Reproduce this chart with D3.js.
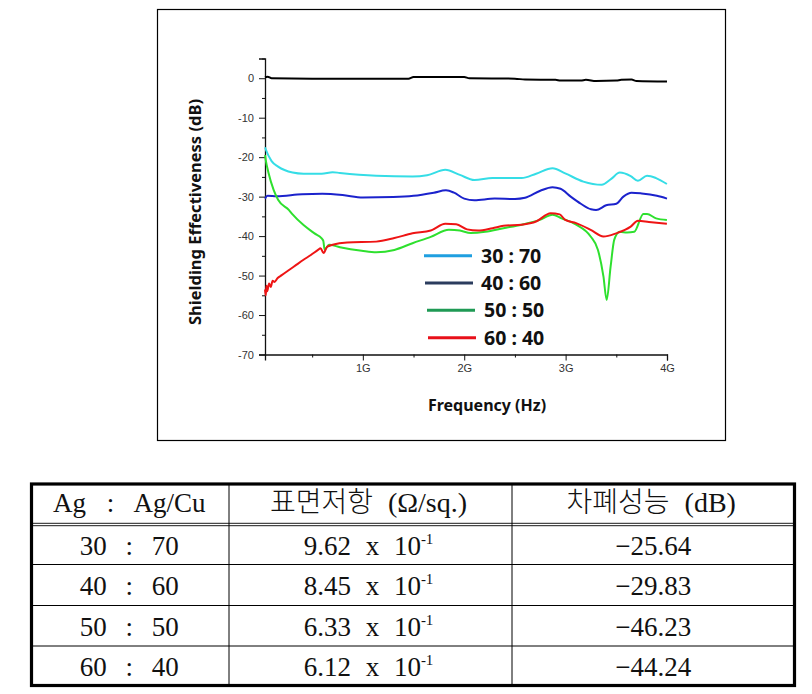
<!DOCTYPE html>
<html><head><meta charset="utf-8">
<script src="https://cdn.jsdelivr.net/npm/d3@7/dist/d3.min.js"></script>
<style>body{margin:0;background:#fff}svg{display:block}</style>
</head><body><svg id="c" width="812" height="694"></svg>
<script>
// ---------- data ----------
const freqMajorTicks = [1, 2, 3, 4];
const freqMinorTicks = [0.5, 1.5, 2.5, 3.5];
const dbMajorTicks = [0, -10, -20, -30, -40, -50, -60, -70];
const dbMinorTicks = [5, -5, -15, -25, -35, -45, -55, -65];

const seriesNames = ["30 : 70", "40 : 60", "50 : 50", "60 : 40"];

// [frequency (GHz), shielding effectiveness (dB)]
const refLine = [[0.035,0.2],[0.06,0.4],[0.1,0],[0.5,-0.1],[1.0,-0.1],[1.45,-0.1],[1.5,0.3],[2.0,0.3],[2.05,0],[2.5,-0.1],[2.6,-0.35],[2.9,-0.4],[2.95,-0.6],[3.15,-0.6],[3.2,-0.4],[3.3,-0.7],[3.5,-0.6],[3.55,-0.4],[3.65,-0.35],[3.7,-0.7],[4.0,-0.85]];
const s3070 = [[0.035,-17.5],[0.042,-18.0],[0.1,-21],[0.164,-22.4],[0.307,-23.9],[0.415,-24.2],[0.594,-24.2],[0.702,-23.8],[0.774,-24.0],[1.132,-24.7],[1.49,-24.9],[1.634,-24.6],[1.813,-23.2],[1.957,-24.5],[2.1,-25.8],[2.279,-25.3],[2.566,-25.3],[2.709,-24.2],[2.871,-22.8],[2.996,-24.1],[3.175,-26.2],[3.355,-27.0],[3.45,-25.5],[3.534,-23.9],[3.642,-24.8],[3.713,-26.0],[3.803,-24.7],[3.892,-25.3],[3.999,-26.8]];
const s4060 = [[0.035,-30.5],[0.06,-29.8],[0.15,-29.9],[0.4,-29.4],[0.6,-29.3],[0.8,-29.6],[1.0,-30.2],[1.3,-30.1],[1.5,-29.8],[1.7,-29.0],[1.82,-28.4],[1.9,-29.0],[2.0,-30.5],[2.1,-30.9],[2.3,-30.5],[2.5,-30.6],[2.6,-30.3],[2.75,-28.5],[2.87,-27.6],[2.95,-28.0],[3.05,-30.0],[3.15,-31.8],[3.25,-33.2],[3.3,-33.4],[3.4,-32.2],[3.5,-31.8],[3.57,-30.0],[3.65,-29.0],[3.75,-29.2],[3.9,-29.8],[4.0,-30.5]];
const s5050 = [[0.035,-19.5],[0.042,-20.7],[0.07,-24],[0.12,-28.3],[0.164,-30.8],[0.272,-33.4],[0.307,-34.5],[0.415,-37.2],[0.523,-39.3],[0.594,-40.6],[0.61,-41.2],[0.623,-43.4],[0.666,-42.2],[0.774,-42.8],[0.989,-43.7],[1.132,-44.1],[1.311,-43.5],[1.49,-41.8],[1.67,-40.2],[1.849,-38.4],[1.957,-38.6],[2.064,-39.2],[2.208,-38.9],[2.387,-38.0],[2.566,-37.1],[2.745,-35.9],[2.871,-34.6],[2.96,-35.5],[3.104,-37.1],[3.247,-40.1],[3.319,-43.5],[3.373,-50.2],[3.405,-56.2],[3.444,-47.7],[3.48,-40.9],[3.534,-38.9],[3.606,-39.1],[3.677,-38.9],[3.767,-34.4],[3.803,-34.4],[3.892,-35.5],[3.999,-35.9]];
const s6040 = [[0.035,-53.5],[0.042,-55.0],[0.05,-52.6],[0.057,-54.0],[0.075,-52.0],[0.092,-52.9],[0.11,-51.3],[0.128,-51.6],[0.16,-50.6],[0.2,-49.9],[0.272,-48.6],[0.343,-47.3],[0.415,-46.0],[0.487,-44.8],[0.558,-43.5],[0.583,-43.1],[0.612,-44.3],[0.648,-42.7],[0.702,-42.2],[0.845,-41.6],[1.132,-41.4],[1.311,-40.5],[1.49,-39.3],[1.67,-38.6],[1.813,-36.9],[1.921,-37.0],[2.028,-38.3],[2.136,-38.6],[2.279,-38.0],[2.387,-37.4],[2.566,-37.1],[2.709,-36.3],[2.853,-34.2],[2.942,-34.5],[2.996,-35.9],[3.104,-36.7],[3.247,-38.4],[3.373,-40.1],[3.498,-39.3],[3.642,-37.6],[3.713,-36.1],[3.821,-36.4],[3.999,-36.9]];

const tableHeader = ["Ag : Ag/Cu", "표면저항 (Ω/sq.)", "차폐성능 (dB)"];
const tableRatio = ["30 : 70", "40 : 60", "50 : 50", "60 : 40"];
const tableResistMantissa = ["9.62", "8.45", "6.33", "6.12"];
const tableResistExponent = ["-1", "-1", "-1", "-1"];
const tableShield = ["−25.64", "−29.83", "−46.23", "−44.24"];

// ---------- styles ----------
const lineColors = ["#35dde6", "#1b22cc", "#2ee02e", "#ee1414"];
const legendColors = ["#1f9fe0", "#2b3c5e", "#1f9a55", "#e8101a"];
const svg = d3.select("#c");

// frame
svg.append("rect").attr("x", 157.5).attr("y", 9.5).attr("width", 568).attr("height", 431)
  .attr("fill", "none").attr("stroke", "#000").attr("stroke-width", 1.2);

const x = d3.scaleLinear().domain([0.035, 4]).range([265, 667]);
const y = d3.scaleLinear().domain([-70, 5]).range([354.5, 58.5]);

const tickFont = "'Liberation Sans', Arial, sans-serif";

// y axis
const yAxis = svg.append("g").attr("transform", "translate(265,0)")
  .call(d3.axisLeft(y).tickValues(dbMajorTicks).tickSize(6).tickPadding(5).tickFormat(d => d));
yAxis.selectAll("text").attr("font-family", tickFont).attr("font-size", 11).attr("fill", "#333");
const yMinor = svg.append("g").attr("transform", "translate(265,0)")
  .call(d3.axisLeft(y).tickValues(dbMinorTicks).tickSize(3).tickFormat(""));
yMinor.select(".domain").remove();

// x axis
const xAxis = svg.append("g").attr("transform", "translate(0,354.5)")
  .call(d3.axisBottom(x).tickValues(freqMajorTicks).tickSize(6).tickPadding(4).tickFormat(d => d + "G"));
xAxis.selectAll("text").attr("font-family", tickFont).attr("font-size", 11).attr("fill", "#333");
const xMinor = svg.append("g").attr("transform", "translate(0,354.5)")
  .call(d3.axisBottom(x).tickValues(freqMinorTicks).tickSize(3).tickFormat(""));
xMinor.select(".domain").remove();
svg.selectAll(".domain").attr("stroke", "#111").attr("stroke-width", 1.3);
svg.selectAll(".tick line").attr("stroke", "#111").attr("stroke-width", 1);

// axis titles
const titleFont = "'Noto Sans', 'Open Sans', sans-serif";
svg.append("text").attr("transform", "translate(201,212) rotate(-90)")
  .attr("text-anchor", "middle").attr("font-family", titleFont).attr("font-weight", "bold")
  .attr("font-size", 16.5).attr("fill", "#111").text("Shielding Effectiveness (dB)");
svg.append("text").attr("x", 487).attr("y", 411)
  .attr("text-anchor", "middle").attr("font-family", titleFont).attr("font-weight", "bold")
  .attr("font-size", 16).attr("fill", "#111").text("Frequency (Hz)");

// lines
const line = d3.line().x(d => x(d[0])).y(d => y(d[1])).curve(d3.curveMonotoneX);
const allSeries = [
  {data: refLine, color: "#000"},
  {data: s3070, color: lineColors[0]},
  {data: s4060, color: lineColors[1]},
  {data: s5050, color: lineColors[2]},
  {data: s6040, color: lineColors[3]}
];
svg.append("g").selectAll("path").data(allSeries).join("path")
  .attr("d", d => line(d.data)).attr("fill", "none")
  .attr("stroke", d => d.color).attr("stroke-width", 2).attr("stroke-linejoin", "round");

// legend
const legY = d3.scalePoint().domain(seriesNames).range([255.7, 337.7]);
const legX0 = [424, 425, 427, 428];
const leg = svg.append("g").selectAll("g").data(seriesNames).join("g");
leg.append("line").attr("x1", (d, i) => legX0[i]).attr("x2", (d, i) => legX0[i] + 48)
  .attr("y1", d => legY(d)).attr("y2", d => legY(d))
  .attr("stroke", (d, i) => legendColors[i]).attr("stroke-width", 3);
leg.append("text").attr("x", (d, i) => i < 2 ? 481 : 484).attr("y", d => legY(d) + 7)
  .attr("font-family", titleFont).attr("font-weight", "bold").attr("font-size", 19.5)
  .attr("fill", "#111").text(d => d);

// ---------- table ----------
const tbl = svg.append("g");
const colEdges = [31.5, 229, 512, 794.5];
const rowEdges = [484, 524.5, 564.5, 605.5, 646, 685.5];
const serif = "'Liberation Serif', 'Times New Roman', serif";
const koFont = "'Liberation Serif', 'Noto Sans CJK KR', serif";

// inner lines
[colEdges[1], colEdges[2]].forEach(cx => tbl.append("line")
  .attr("x1", cx).attr("x2", cx).attr("y1", rowEdges[0]).attr("y2", rowEdges[5])
  .attr("stroke", "#000").attr("stroke-width", 1));
[rowEdges[2], rowEdges[3], rowEdges[4]].forEach(ry => tbl.append("line")
  .attr("x1", colEdges[0]).attr("x2", colEdges[3]).attr("y1", ry).attr("y2", ry)
  .attr("stroke", "#000").attr("stroke-width", 1));
[rowEdges[1] - 1.2, rowEdges[1] + 1.2].forEach(ry => tbl.append("line")
  .attr("x1", colEdges[0]).attr("x2", colEdges[3]).attr("y1", ry).attr("y2", ry)
  .attr("stroke", "#000").attr("stroke-width", 0.9));
tbl.append("rect").attr("x", colEdges[0]).attr("y", rowEdges[0])
  .attr("width", colEdges[3] - colEdges[0]).attr("height", rowEdges[5] - rowEdges[0])
  .attr("fill", "none").attr("stroke", "#000").attr("stroke-width", 3.2);

const colCenter = i => (colEdges[i] + colEdges[i + 1]) / 2;
// header
tableHeader.forEach((h, i) => {
  tbl.append("text").attr("x", colCenter(i) - (i === 0 ? 1 : 2)).attr("y", 512)
    .attr("text-anchor", "middle").attr("font-family", koFont).attr("font-size", i === 0 ? 27 : 28)
    .attr("font-weight", 300).attr("word-spacing", i === 0 ? 14 : 8)
    .attr("fill", "#111").text(h);
});
tableRatio.forEach((r, i) => {
  const by = (rowEdges[i + 1] + rowEdges[i + 2]) / 2 + 10;
  tbl.append("text").attr("x", colCenter(0) - 1).attr("y", by)
    .attr("text-anchor", "middle").attr("font-family", serif).attr("font-size", 27)
    .attr("word-spacing", 12).attr("fill", "#111").text(r);
  const t = tbl.append("text").attr("x", colCenter(1) - 2).attr("y", by)
    .attr("text-anchor", "middle").attr("font-family", serif).attr("font-size", 27)
    .attr("fill", "#111").attr("word-spacing", 8);
  t.append("tspan").text(tableResistMantissa[i] + " x 10");
  t.append("tspan").attr("dy", -11).attr("font-size", 15).text(tableResistExponent[i]);
  tbl.append("text").attr("x", colCenter(2)).attr("y", by)
    .attr("text-anchor", "middle").attr("font-family", serif).attr("font-size", 27)
    .attr("fill", "#111").text(tableShield[i]);
});
</script></body></html>
